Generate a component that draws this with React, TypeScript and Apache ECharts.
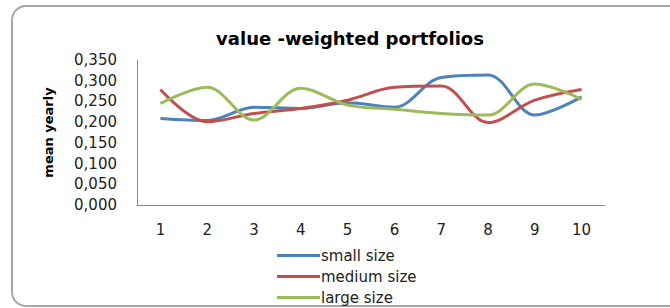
import React, { useEffect, useRef } from "react";
import * as echarts from "echarts";

const categories = ["1", "2", "3", "4", "5", "6", "7", "8", "9", "10"];
const smallSize = [0.209, 0.204, 0.236, 0.233, 0.247, 0.236, 0.308, 0.314, 0.217, 0.261];
const mediumSize = [0.279, 0.201, 0.221, 0.233, 0.253, 0.284, 0.287, 0.199, 0.253, 0.279];
const largeSize = [0.245, 0.284, 0.205, 0.282, 0.241, 0.231, 0.221, 0.217, 0.292, 0.255];

const FONT = "'DejaVu Sans', sans-serif";

export default function App() {
  const ref = useRef<HTMLDivElement>(null);
  useEffect(() => {
    if (!ref.current) return;
    const chart = echarts.init(ref.current, null, { renderer: "svg" });
    const lineSeries = (name: string, data: number[], color: string) => ({
      name,
      type: "line",
      data,
      smooth: 0.35,
      symbol: "none",
      lineStyle: { width: 3, color },
      itemStyle: { color },
    });
    chart.setOption({
      animation: false,
      backgroundColor: "#ffffff",
      textStyle: { fontFamily: FONT },
      graphic: [
        {
          type: "rect",
          shape: { x: 12, y: 6, width: 690, height: 300, r: 14 },
          style: { fill: "none", stroke: "#a6a6a6", lineWidth: 2 },
          z: -1,
        },
      ],
      title: {
        text: "value -weighted portfolios",
        left: 345,
        top: 24,
        textAlign: "center",
        textStyle: { fontFamily: FONT, fontSize: 18, fontWeight: "bold", color: "#000" },
      },
      legend: {
        orient: "vertical",
        left: 272,
        top: 243,
        height: 90,
        itemWidth: 43,
        itemHeight: 3,
        itemGap: 6,
        icon: "rect",
        textStyle: { fontFamily: FONT, fontSize: 15, color: "#222", padding: [0, 0, 0, -4] },
        data: ["small size", "medium size", "large size"],
      },
      grid: { left: 137, right: 65, top: 60, bottom: 103, containLabel: false },
      xAxis: {
        type: "category",
        data: categories,
        boundaryGap: true,
        axisLine: { lineStyle: { color: "#8c8c8c", width: 1 } },
        axisTick: { show: false },
        axisLabel: { fontFamily: FONT, fontSize: 15, color: "#222", margin: 17 },
      },
      yAxis: {
        type: "value",
        min: 0,
        max: 0.35,
        interval: 0.05,
        name: "mean yearly",
        nameLocation: "middle",
        nameGap: 82,
        nameTextStyle: { fontFamily: FONT, fontSize: 13, fontWeight: "bold", color: "#000" },
        axisLine: { show: true, lineStyle: { color: "#8c8c8c", width: 1 } },
        axisTick: { show: false },
        splitLine: { show: false },
        axisLabel: {
          fontFamily: FONT,
          fontSize: 15,
          color: "#222",
          margin: 20,
          formatter: (v: number) => v.toFixed(3).replace(".", ","),
        },
      },
      series: [
        lineSeries("small size", smallSize, "#4F81BD"),
        lineSeries("medium size", mediumSize, "#C0504D"),
        lineSeries("large size", largeSize, "#9BBB59"),
      ],
    });
    return () => chart.dispose();
  }, []);
  return (
    <div
      ref={ref}
      style={{ position: "absolute", left: 0, top: 0, width: 670, height: 308 }}
    />
  );
}
